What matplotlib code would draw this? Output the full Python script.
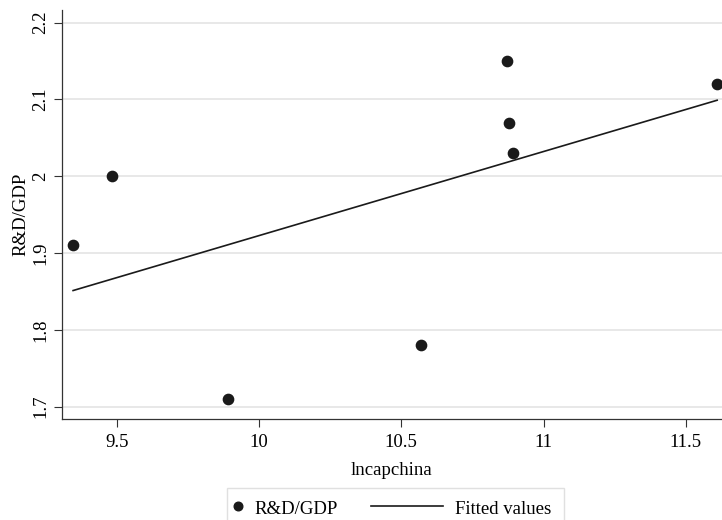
import numpy as np
import matplotlib
matplotlib.use("Agg")
import matplotlib.pyplot as plt
from matplotlib.lines import Line2D
from matplotlib.patches import Rectangle

plt.rcParams['font.family'] = ['Liberation Serif', 'DejaVu Serif']

# data
lncapchina = [9.347, 9.485, 9.892, 10.568, 10.870, 10.879, 10.893, 11.610]
rd_gdp = [1.91, 2.00, 1.71, 1.78, 2.15, 2.07, 2.03, 2.12]
xticks = [9.5, 10, 10.5, 11, 11.5]
xticklabels = ["9.5", "10", "10.5", "11", "11.5"]
yticks = [1.7, 1.8, 1.9, 2.0, 2.1, 2.2]
yticklabels = ["1.7", "1.8", "1.9", "2", "2.1", "2.2"]
series_labels = ["R&D/GDP", "Fitted values"]

x = np.array(lncapchina)
y = np.array(rd_gdp)
slope, intercept = np.polyfit(x, y, 1)
xs = np.array([x.min(), x.max()])
fitted = slope * xs + intercept

W, H = 722, 520
fig = plt.figure(figsize=(W / 100, H / 100), dpi=100)
left, right, bottom, top = 61.7, 722, 419, 10
ax = fig.add_axes([left / W, 1 - bottom / H, (right - left) / W, (bottom - top) / H])

fs = 13.5
dark = '#1a1a1a'
ax.set_xlim(9.307, 11.627)
ax.set_ylim(1.684, 2.2165)

for yt in yticks:
    ax.axhline(yt, color='#e6e6e6', lw=1.3, zorder=0)

ax.plot(xs, fitted, color=dark, lw=1.2, zorder=2)
ax.plot(x, y, 'o', color=dark, ms=7.4, zorder=3, clip_on=False)

ax.set_xticks(xticks)
ax.set_xticklabels(xticklabels, fontsize=fs)
ax.set_yticks(yticks)
ax.set_yticklabels(yticklabels, fontsize=fs, rotation=90, va='center')
ax.tick_params(axis='both', direction='out', length=6, width=0.8, color='#333333')
ax.tick_params(axis='x', pad=5)
ax.tick_params(axis='y', pad=3)

for s in ['top', 'right']:
    ax.spines[s].set_visible(False)
for s in ['left', 'bottom']:
    ax.spines[s].set_color('#333333')
    ax.spines[s].set_linewidth(0.9)

ax.set_xlabel('lncapchina', fontsize=fs, labelpad=8)
ax.set_ylabel('R&D/GDP', fontsize=fs, va='center')
ax.yaxis.set_label_coords((20.7 - left) / (right - left), 0.5)

# legend drawn in figure pixel coordinates
def fx(px):
    return px / W

def fy(py):
    return 1 - py / H

fig.patches.append(Rectangle((fx(226.7), fy(530)), fx(564) - fx(226.7), fy(488.3) - fy(530),
                             transform=fig.transFigure, facecolor='white',
                             edgecolor='#e0e0e0', lw=1.0, zorder=1))
ly = 506
base = 513.5
fig.lines.append(Line2D([fx(237.7)], [fy(ly)], marker='o', ls='none', color=dark, ms=6.2,
                        transform=fig.transFigure))
fig.text(fx(254.3), fy(base), series_labels[0], fontsize=fs, ha='left', va='baseline')
fig.lines.append(Line2D([fx(371), fx(443.3)], [fy(ly), fy(ly)], color=dark, lw=1.2,
                        transform=fig.transFigure))
fig.text(fx(455), fy(base), series_labels[1], fontsize=fs, ha='left', va='baseline')

fig.savefig('out.png', dpi=100)
